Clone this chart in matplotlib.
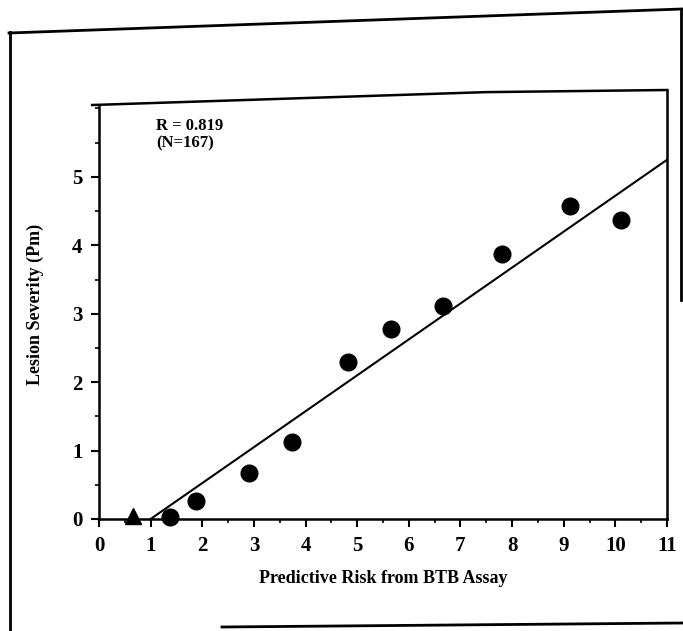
import numpy as np
import matplotlib
matplotlib.use('Agg')
import matplotlib.pyplot as plt
from matplotlib.lines import Line2D
from matplotlib.ticker import MultipleLocator

# data
risk_circ = [1.38, 1.88, 2.91, 3.73, 4.82, 5.65, 6.66, 7.80, 9.13, 10.10]
sev_circ = [0.03, 0.26, 0.67, 1.13, 2.30, 2.78, 3.11, 3.88, 4.58, 4.37]
risk_tri = [0.66]
sev_tri = [0.04]
fit_x = [1.0, 11.0]
fit_y = [0.0, 5.25]
x_ticks = list(range(0, 12))
y_ticks = [0, 1, 2, 3, 4, 5]

plt.rcParams['font.family'] = 'Liberation Serif'
plt.rcParams['font.weight'] = 'bold'

fig = plt.figure(figsize=(6.83, 6.31), dpi=100)
W, H = 683.0, 631.0
ytop = 6.27
ax = fig.add_axes([99 / W, 1 - 519 / H, (667 - 99) / W, (519 - 90) / H])

ax.plot(fit_x, fit_y, color='black', lw=1.5, clip_on=False)
ax.plot(risk_circ, sev_circ, 'o', color='black', ms=12, clip_on=False)
ax.plot(risk_tri, sev_tri, '^', color='black', ms=12, clip_on=False)

ax.set_xlim(0, 11)
ax.set_ylim(0, ytop)
ax.set_xticks(x_ticks)
ax.set_yticks(y_ticks)
ax.xaxis.set_minor_locator(MultipleLocator(0.5))
ax.yaxis.set_minor_locator(MultipleLocator(0.5))
ax.tick_params(which='major', direction='out', length=6, width=1.5, labelsize=15, pad=6)
ax.tick_params(which='minor', direction='out', length=3, width=1.2)
for lab in ax.get_xticklabels() + ax.get_yticklabels():
    lab.set_fontweight('bold')

ax.spines['top'].set_visible(False)
for s in ['left', 'right', 'bottom']:
    ax.spines[s].set_linewidth(1.8)
ax.spines['left'].set_bounds(0, ytop * 0.965)
# slightly skewed top edge as in the scan
ax.add_line(Line2D([-0.012, 0.68, 1.0], [0.965, 0.995, 1.0], transform=ax.transAxes,
                   color='black', lw=1.8, clip_on=False))

ax.set_xlabel('Predictive Risk from BTB Assay', fontsize=13, fontweight='bold', labelpad=10)
ax.set_ylabel('Lesion Severity (Pm)', fontsize=13, fontweight='bold', labelpad=20)

ax.text(0.1, 0.935, 'R = 0.819\n(N=167)', transform=ax.transAxes, fontsize=12,
        fontweight='bold', va='top', ha='left', linespacing=1.1)

# outer frame of the scanned page
fig.add_artist(Line2D([10 / W, 10 / W], [0, 1 - 32 / H], color='black', lw=2))
fig.add_artist(Line2D([9 / W, 682 / W], [1 - 33 / H, 1 - 9 / H], color='black', lw=2))
fig.add_artist(Line2D([681 / W, 681 / W], [1 - 9 / H, 1 - 300 / H], color='black', lw=2))
fig.add_artist(Line2D([222 / W, 683 / W], [1 - 627 / H, 1 - 623 / H], color='black', lw=2))

fig.savefig('out.png', dpi=100)
